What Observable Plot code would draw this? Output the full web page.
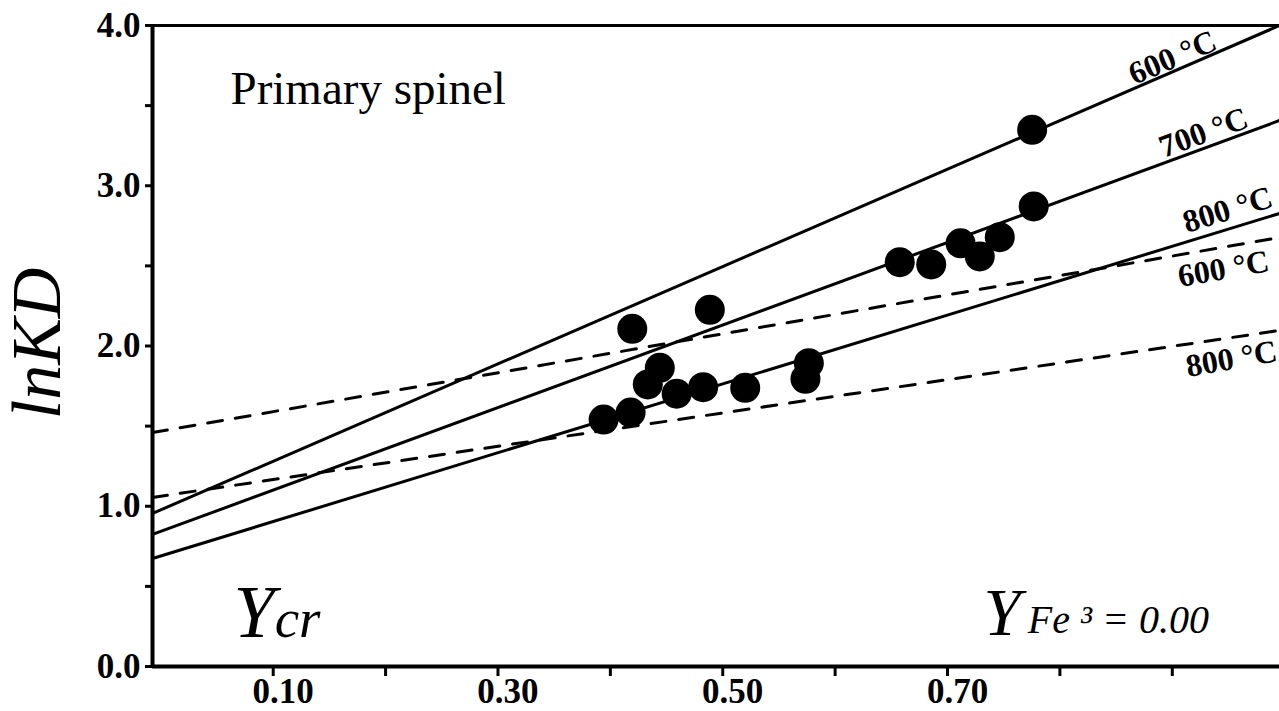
<!DOCTYPE html>
<html><head><meta charset="utf-8">
<script src="https://cdn.jsdelivr.net/npm/d3@7"></script>
<script src="https://cdn.jsdelivr.net/npm/@observablehq/plot@0.6"></script>
<style>body{margin:0;background:#fff;}</style>
</head><body><div id="chart"></div>
<script>
// Observed samples: Ycr (x) and lnKD (y)
const ycr  = [0.394,0.418,0.4195,0.4333,0.444,0.459,0.4826,0.4885,0.520,0.5736,0.5766,0.6575,0.6855,0.7116,0.7287,0.7465,0.7753,0.7767];
const lnKD = [1.541,1.585,2.107,1.760,1.864,1.702,1.743,2.226,1.739,1.795,1.893,2.523,2.509,2.641,2.559,2.679,3.349,2.871];

// Isotherms (value at left and right end of the x range)
const xExtent = [-0.0074, 0.9954];
const solidNames = ["600 °C", "700 °C", "800 °C"];
const solidLeft  = [0.955, 0.824, 0.674];
const solidRight = [4.0, 3.407, 2.827];
const dashedNames = ["600 °C", "800 °C"];
const dashedLeft  = [1.460, 1.055];
const dashedRight = [2.677, 2.097];

// Ticks
const xTicks = [0.1,0.2,0.3,0.4,0.5,0.6,0.7,0.8,0.9];
const xTickLabels = ["0.10","","0.30","","0.50","","0.70","",""];
const yTicks = [0,0.5,1,1.5,2,2.5,3,3.5,4];
const yTickLabels = ["0.0","","1.0","","2.0","","3.0","","4.0"];

const points = ycr.map((x, i) => ({x, y: lnKD[i]}));
const mkRows = (names, L, R) => names.flatMap((s, i) => [
  {s, x: xExtent[0], y: L[i]}, {s, x: xExtent[1], y: R[i]}
]);
const solidRows = mkRows(solidNames, solidLeft, solidRight);
const dashedRows = mkRows(dashedNames, dashedLeft, dashedRight);
const xLab = xTicks.map((v, i) => ({v, t: xTickLabels[i]})).filter(d => d.t);
const yLab = yTicks.map((v, i) => ({v, t: yTickLabels[i]})).filter(d => d.t);

const serif = '"Liberation Serif", "Times New Roman", serif';
const chart = Plot.plot({
  width: 1279, height: 711,
  marginLeft: 152, marginRight: 0, marginTop: 25, marginBottom: 45,
  x: {domain: xExtent},
  y: {domain: [0, 4]},
  style: {fontFamily: serif, fontSize: "35px", fontWeight: "bold", color: "black", background: "white", overflow: "visible"},
  marks: [
    Plot.axisX({ticks: xTicks, tickSize: 10, strokeWidth: 3, tickFormat: () => "", label: null}),
    Plot.axisY({ticks: yTicks, tickSize: 7, strokeWidth: 3, tickFormat: () => "", label: null}),
    Plot.text(xLab, {x: "v", text: "t", frameAnchor: "bottom", lineAnchor: "top", dy: 12, dx: 10}),
    Plot.text(yLab, {y: "v", text: "t", frameAnchor: "left", textAnchor: "end", lineAnchor: "middle", dx: -12}),
    Plot.line(solidRows, {x: "x", y: "y", z: "s", stroke: "black", strokeWidth: 3}),
    Plot.line(dashedRows, {x: "x", y: "y", z: "s", stroke: "black", strokeWidth: 3, strokeDasharray: "15,13"}),
    Plot.dot(points, {x: "x", y: "y", r: 15, fill: "black", stroke: null}),
    Plot.ruleY([0], {strokeWidth: 4}),
    Plot.ruleY([4], {strokeWidth: 3}),
    Plot.ruleX([xExtent[0]], {strokeWidth: 4}),
    // isotherm labels
    Plot.text([solidNames[0]], {x: 0.9002, y: 3.80, text: d => d, rotate: -23, fontSize: 32, lineAnchor: "middle"}),
    Plot.text([solidNames[1]], {x: 0.9278, y: 3.331, text: d => d, rotate: -20, fontSize: 32, lineAnchor: "middle"}),
    Plot.text([solidNames[2]], {x: 0.9492, y: 2.85, text: d => d, rotate: -17, fontSize: 32, lineAnchor: "middle"}),
    Plot.text([dashedNames[0]], {x: 0.9456, y: 2.481, text: d => d, rotate: -10, fontSize: 32, lineAnchor: "middle"}),
    Plot.text([dashedNames[1]], {x: 0.9527, y: 1.919, text: d => d, rotate: -10, fontSize: 32, lineAnchor: "middle"}),
    // annotations
    Plot.text(["Primary spinel"], {x: 0.062, y: 3.513, text: d => d, textAnchor: "start", lineAnchor: "bottom", fontSize: 47, fontWeight: "normal"}),
    Plot.text(["lnKD"], {x: -0.1098, y: 2.016, text: d => d, rotate: -90, lineAnchor: "middle", fontSize: 70, fontWeight: "normal", fontStyle: "italic"}),
    Plot.text(["Ycr"], {x: 0.0647, y: 0.181, text: d => d, textAnchor: "start", lineAnchor: "bottom", fontSize: 74, fontWeight: "normal", fontStyle: "italic"}),
    Plot.text(["YFe ³ = 0.00"], {x: 0.732, y: 0.195, text: d => d, textAnchor: "start", lineAnchor: "bottom", fontSize: 67, fontWeight: "normal", fontStyle: "italic"})
  ]
});
// mixed-size annotation text (kept as single text elements)
d3.select(chart).selectAll("text").each(function() {
  const t = this.textContent;
  const sel = d3.select(this);
  if (t === "Ycr") {
    sel.text("");
    sel.append("tspan").attr("font-size", 74).text("Y");
    sel.append("tspan").attr("font-size", 55).attr("dx", 0).text("cr");
  } else if (t === "YFe ³ = 0.00") {
    sel.text("");
    sel.append("tspan").attr("font-size", 67).text("Y");
    sel.append("tspan").attr("font-size", 40).attr("dx", 7).attr("dy", -2).text("Fe ³ = 0.00");
  }
});
document.getElementById("chart").appendChild(chart);
</script>
</body></html>
